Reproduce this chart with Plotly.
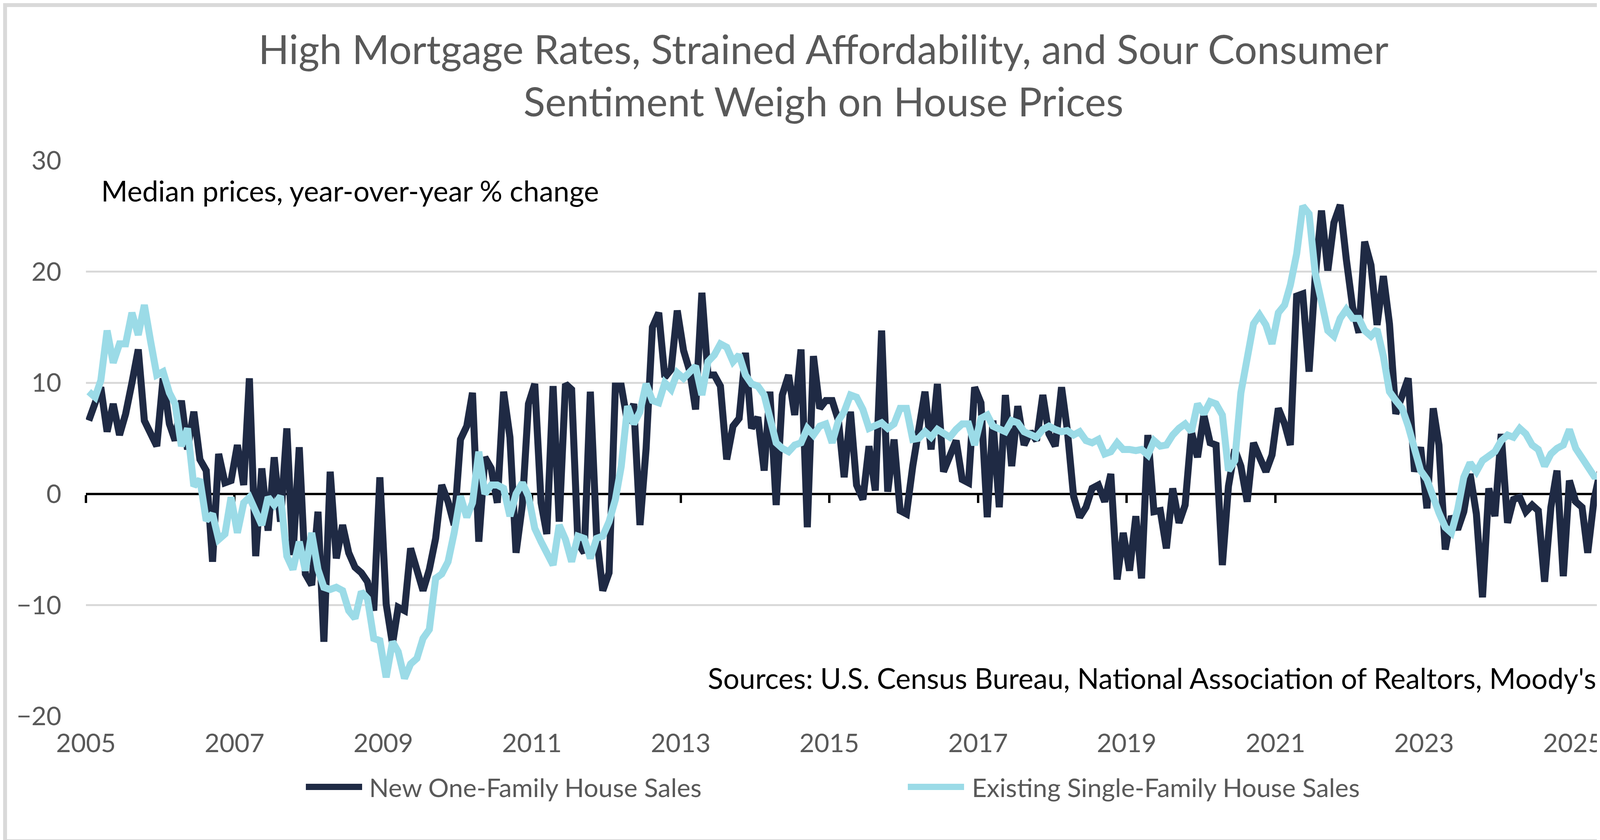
import pandas as pd
import plotly.graph_objects as go

# Median prices, year-over-year % change, monthly Jan 2005 - Jun 2025
new_one_family = [
    6.6, 8.0, 9.6, 5.6, 8.1, 5.3, 7.2, 10.0, 13.0, 6.6, 5.5, 4.3,
    10.4, 6.3, 4.8, 8.4, 4.0, 7.4, 3.1, 2.1, -6.1, 3.6, 1.0, 1.2,
    4.4, 0.8, 10.4, -5.6, 2.3, -3.3, 3.3, -2.5, 5.9, -5.5, 4.2, -7.2,
    -8.2, -1.6, -13.3, 2.0, -5.8, -2.8, -5.3, -6.6, -7.1, -7.9, -10.5, 1.5,
    -9.9, -13.5, -10.2, -10.5, -4.9, -6.6, -8.7, -6.8, -4.0, 0.8, -0.7, -2.8,
    4.9, 6.1, 9.1, -4.3, 3.3, 2.3, -0.8, 9.2, 5.1, -5.3, -1.0, 8.1,
    9.9, -0.8, -3.6, 9.7, -2.5, 9.9, 9.4, -4.4, -5.3, 9.2, -3.8, -8.7,
    -7.1, 9.7, 9.7, 6.4, 8.1, -2.8, 4.1, 15.0, 16.3, 10.5, 11.2, 16.5,
    12.9, 11.0, 7.6, 18.1, 10.7, 10.7, 9.7, 3.1, 6.1, 6.8, 12.7, 5.9,
    6.9, 2.1, 9.2, -1.0, 8.9, 10.7, 7.1, 13.0, -3.0, 12.4, 7.7, 8.4,
    8.4, 6.6, 1.5, 7.4, 0.8, -0.5, 4.3, 0.3, 14.7, 0.2, 4.9, -1.5,
    -1.8, 2.5, 6.0, 9.2, 4.0, 9.9, 2.0, 3.3, 4.8, 1.3, 1.0, 9.6,
    8.2, -2.1, 6.6, -1.2, 8.9, 2.5, 7.9, 4.4, 5.6, 4.8, 8.9, 5.4,
    4.3, 9.6, 5.8, -0.2, -2.1, -1.2, 0.5, 0.8, -0.7, 1.8, -7.7, -3.5,
    -6.9, -2.0, -7.6, 5.3, -1.6, -1.5, -4.9, 0.5, -2.6, -1.0, 5.6, 3.3,
    7.1, 4.6, 4.4, -6.4, 0.7, 4.0, 2.5, -0.7, 4.6, 3.3, 2.0, 3.5,
    7.7, 6.3, 4.4, 17.8, 18.0, 11.0, 19.5, 25.5, 20.1, 24.4, 26.0, 21.1,
    16.8, 14.5, 22.7, 20.6, 15.2, 19.6, 15.3, 7.2, 8.9, 10.4, 2.0, 4.2,
    -1.3, 7.7, 4.4, -5.0, -2.0, -3.2, -1.6, 1.8, -1.8, -9.3, 0.5, -2.0,
    5.4, -2.6, -0.5, -0.3, -1.6, -1.0, -1.5, -7.9, -1.2, 2.1, -7.4, 1.2,
    -0.7, -1.2, -5.3, -0.5, 2.0, -2.8,
]

existing_single_family = [
    9.2, 8.7, 10.2, 14.7, 11.8, 13.5, 13.5, 16.3, 14.3, 17.0, 13.7, 10.7,
    11.0, 9.1, 8.1, 4.3, 5.9, 0.7, 1.3, -2.4, -1.8, -4.1, -3.6, -0.3,
    -3.5, -0.8, -0.3, -1.5, -2.8, -0.3, -1.0, -0.2, -5.6, -6.8, -4.3, -6.9,
    -3.5, -6.8, -8.4, -8.6, -8.4, -8.7, -10.5, -11.2, -8.8, -9.4, -13.0, -13.2,
    -16.5, -13.3, -14.2, -16.6, -15.3, -14.8, -13.0, -12.2, -7.6, -7.2, -6.1, -3.5,
    -0.2, -2.1, -0.8, 3.8, 0.0, 0.8, 0.8, 0.5, -2.0, 0.0, 1.0, -0.2,
    -3.1, -4.3, -5.3, -6.4, -2.8, -4.1, -6.1, -3.8, -4.0, -5.8, -4.0, -3.8,
    -2.5, -0.5, 2.5, 7.9, 6.3, 7.4, 9.9, 8.4, 8.2, 10.0, 9.4, 10.9,
    10.4, 10.9, 11.5, 8.9, 11.9, 12.5, 13.5, 13.2, 11.9, 12.5, 10.7, 9.9,
    9.7, 8.9, 6.8, 4.6, 4.1, 3.8, 4.4, 4.6, 5.9, 5.3, 6.1, 6.3,
    4.6, 6.6, 7.4, 8.9, 8.7, 7.6, 5.9, 6.1, 6.4, 5.9, 6.3, 7.7,
    7.7, 4.9, 5.0, 5.6, 5.1, 5.8, 5.4, 5.1, 5.8, 6.3, 6.3, 4.4,
    6.8, 7.1, 6.1, 5.8, 5.6, 6.6, 6.4, 5.6, 5.4, 5.1, 5.8, 6.1,
    5.8, 5.6, 5.7, 5.3, 5.6, 4.8, 4.6, 4.9, 3.6, 3.8, 4.6, 4.0,
    4.0, 3.9, 4.0, 3.5, 4.8, 4.3, 4.4, 5.3, 5.9, 6.3, 5.6, 8.1,
    7.2, 8.3, 8.1, 7.1, 2.1, 3.0, 9.1, 12.0, 15.3, 16.1, 15.2, 13.5,
    16.3, 17.0, 18.8, 21.6, 25.9, 25.2, 19.9, 17.3, 14.7, 14.2, 15.8, 16.6,
    15.8, 15.8, 14.7, 14.2, 14.8, 12.4, 9.2, 8.4, 7.7, 6.1, 3.8, 2.1,
    1.3, -0.5, -1.7, -3.0, -3.5, -1.4, 1.5, 2.8, 2.0, 3.0, 3.5, 3.8,
    4.8, 5.3, 5.1, 5.9, 5.4, 4.4, 4.0, 2.5, 3.6, 4.1, 4.4, 5.8,
    4.1, 3.3, 2.5, 1.6, 1.6, 2.0,
]

series_names = ["New One-Family House Sales", "Existing Single-Family House Sales"]

# monthly observations, plotted mid-month
months = pd.date_range("2005-01-01", periods=len(new_one_family), freq="MS") + pd.Timedelta(days=14)

y_ticks = [-20, -10, 0, 10, 20, 30]

W, H = 4200, 2151
M_L, M_R, M_T, M_B = 212, 84, 403, 325
PLOT_W = W - M_L - M_R
PLOT_H = H - M_T - M_B

DARK = "#1f2a44"
LIGHT = "#9bdbe7"
GREY_TXT = "#595959"
FONT = "Lato"
LINE_W = 18


def px_x(px):
    """Figure pixel column -> paper x."""
    return (px - M_L) / PLOT_W


def px_y(px):
    """Figure pixel row (from top) -> paper y."""
    return (H - M_B - px) / PLOT_H


fig = go.Figure()
fig.add_trace(go.Scatter(
    x=months, y=new_one_family, mode="lines", name=series_names[0],
    line=dict(color=DARK, width=LINE_W),
))
fig.add_trace(go.Scatter(
    x=months, y=existing_single_family, mode="lines", name=series_names[1],
    line=dict(color=LIGHT, width=LINE_W),
))

# x axis line sits on zero, labels pushed down to the bottom of the plot
zero_pos = (0 - y_ticks[0]) / (y_ticks[-1] - y_ticks[0])

fig.update_xaxes(
    type="date",
    range=["2005-01-01", "2025-07-07"],
    tick0="2005-01-01", dtick="M24", tickformat="%Y",
    anchor="free", position=zero_pos,
    showline=True, linecolor="black", linewidth=6,
    ticks="outside", ticklen=20, tickwidth=6, tickcolor="black",
    ticklabelstandoff=559,
    showgrid=False, zeroline=False, layer="below traces",
    tickfont=dict(family=FONT, size=66, color=GREY_TXT),
    automargin=False,
)
fig.update_yaxes(
    range=[y_ticks[0], y_ticks[-1]], tickvals=y_ticks,
    showgrid=True, gridcolor="#d9d9d9", gridwidth=5,
    zeroline=False, showline=False, ticks="",
    ticklabelstandoff=62,
    tickfont=dict(family=FONT, size=66, color=GREY_TXT),
    automargin=False,
)

# legend drawn by hand below the axis (plotly caps legend line width at 10px)
legend_y = px_y(2007)
legend_items = [(775, 919, 935, DARK), (2316, 2460, 2478, LIGHT)]
legend_shapes = []
legend_notes = []
for name, (s0, s1, tx, col) in zip(series_names, legend_items):
    legend_shapes.append(dict(type="line", xref="paper", yref="paper",
                              x0=px_x(s0), x1=px_x(s1), y0=legend_y, y1=legend_y,
                              line=dict(color=col, width=16)))
    legend_notes.append(dict(text=name, xref="paper", yref="paper",
                             x=px_x(tx), y=legend_y, xanchor="left", yanchor="middle",
                             showarrow=False, font=dict(family=FONT, size=66, color=GREY_TXT)))

fig.update_layout(
    width=W, height=H,
    margin=dict(l=M_L, r=M_R, t=M_T, b=M_B),
    paper_bgcolor="white", plot_bgcolor="white",
    title=dict(
        text="High Mortgage Rates, Strained Affordability, and Sour Consumer<br>Sentiment Weigh on House Prices",
        x=0.5, xanchor="center", y=1 - 156 / H, yanchor="middle",
        font=dict(family=FONT, size=103, color=GREY_TXT),
    ),
    showlegend=False,
    annotations=[
        dict(text="Median prices, year-over-year % change", xref="paper", yref="paper",
             x=px_x(249), y=px_y(480), xanchor="left", yanchor="middle",
             showarrow=False, font=dict(family=FONT, size=73, color="black")),
        dict(text="Sources: U.S. Census Bureau, National Association of Realtors, Moody's",
             xref="paper", yref="paper",
             x=px_x(4080), y=px_y(1728), xanchor="right", yanchor="middle",
             showarrow=False, font=dict(family=FONT, size=73, color="black")),
    ] + legend_notes,
    shapes=[
        # light grey chart border
        dict(type="rect", xref="paper", yref="paper",
             x0=px_x(5), x1=px_x(W - 5), y0=px_y(H - 5), y1=px_y(5),
             line=dict(color="#d9d9d9", width=10), layer="below"),
    ] + legend_shapes,
)

fig.write_html("out.html")
